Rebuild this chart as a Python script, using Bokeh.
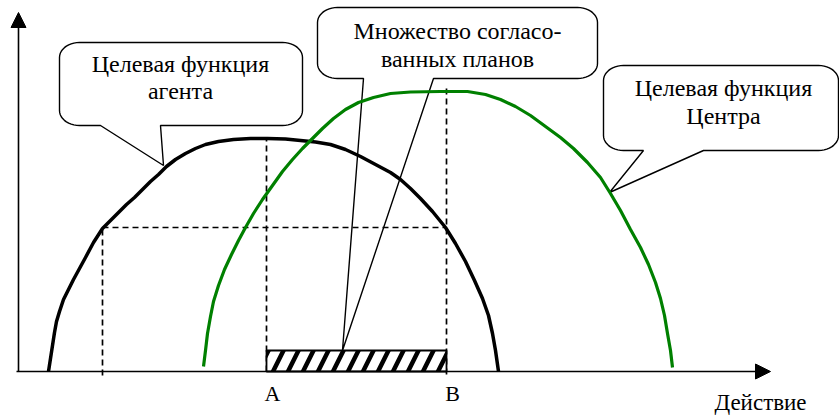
import numpy as np
from bokeh.plotting import figure
from bokeh.models import Range1d, Arrow, NormalHead
from bokeh.core.properties import value
from bokeh.embed import file_html
from bokeh.resources import INLINE

# ---- data (origin = intersection of the two axes) ----
agent_x = [30, 32, 34, 36, 38, 41, 45, 50, 55, 61, 67, 75, 84, 92, 100, 108, 116, 124,
           132, 140, 148, 157, 167, 177, 187, 200, 215, 232, 249, 267, 282, 297, 312,
           327, 342, 357, 372, 382, 392, 402, 414, 427, 437, 447, 456, 464, 470, 474,
           477, 480]
agent_y = [0, 13, 26, 39, 50, 60, 72, 82, 92, 103, 114, 129, 143, 151, 159, 167, 174, 182,
           190, 197, 205, 212, 218, 223, 227, 230, 232, 233, 233, 232.5, 231, 229.5, 227,
           222, 215, 207, 199, 192, 183, 173, 160, 144, 128, 110, 91, 73, 56, 38,
           21, 0]

center_x = [185, 187, 189, 192, 195, 200, 206, 213, 220, 227, 235, 244, 254, 264, 274,
            284, 294, 304, 315, 327, 340, 355, 372, 392, 422, 449, 467, 482, 497, 512,
            527, 542, 555, 569, 582, 592, 602, 612, 622, 630, 637, 642, 646, 649, 652, 654]
center_y = [5, 21, 38, 55, 70, 86, 102, 117, 131, 144, 158, 172, 186, 200, 212,
            223, 233, 243, 253, 262, 269, 274, 278, 279.5, 280, 280, 277, 272, 265, 256,
            245, 234, 223, 209, 194, 178, 161, 142, 124, 107, 89, 73, 56, 38, 21, 4]

tick_labels = ["A", "B"]
plan_x = [248, 428]          # A, B
plan_height = 21
level_y = 144                # equal agent value level
level_x = [84, 427]
top_A = 233                  # agent max
top_B = 286                  # center max

axis_label = "Действие"

FONT = "Liberation Serif"

p = figure(width=839, height=415, x_range=Range1d(-18, 821), y_range=Range1d(-44, 371),
           output_backend="svg", toolbar_location=None, x_axis_type=None, y_axis_type=None,
           min_border=0)
p.grid.visible = False
p.outline_line_color = None
p.background_fill_color = "white"
p.border_fill_color = "white"


def callout(x0, x1, y0, y1, tb0, tb1, tip, rx=20, ry=15, n=12):
    xs, ys = [tb1, x1 - rx], [y0, y0]
    def arc(cx, cy, a0, a1):
        t = np.linspace(np.radians(a0), np.radians(a1), n)
        xs.extend(cx + rx * np.cos(t))
        ys.extend(cy + ry * np.sin(t))
    arc(x1 - rx, y0 + ry, -90, 0)
    arc(x1 - rx, y1 - ry, 0, 90)
    arc(x0 + rx, y1 - ry, 90, 180)
    arc(x0 + rx, y0 + ry, 180, 270)
    xs += [tb0, tip[0], tb1]
    ys += [y0, tip[1], y0]
    return xs, ys


callouts = [
    dict(box=(41, 284, 246, 329), tail=(82, 142), tip=(145, 206),
         lines=["Целевая функция", "агента"], cx=162, ly=[308, 281]),
    dict(box=(299, 579, 293, 364), tail=(345, 415), tip=(324, 21),
         lines=["Множество согласо-", "ванных планов"], cx=439, ly=[341, 313]),
    dict(box=(585, 820, 221, 306), tail=(625, 685), tip=(591, 179),
         lines=["Целевая функция", "Центра"], cx=705, ly=[284, 256]),
]

for c in callouts:
    x0, x1, y0, y1 = c["box"]
    xs, ys = callout(x0, x1, y0, y1, c["tail"][0], c["tail"][1], c["tip"])
    p.patch(xs, ys, fill_color="white", line_color="black", line_width=1.4)

# dashed guide lines
dash = dict(line_color="black", line_width=1.7, line_dash="6 4")
p.line([plan_x[0], plan_x[0]], [0, top_A], **dash)
p.line([plan_x[1], plan_x[1]], [-3, top_B], **dash)
p.line(level_x, [level_y, level_y], **dash)
p.line([level_x[0], level_x[0]], [-4, level_y], **dash)

# set of agreed plans
p.quad(left=plan_x[0], right=plan_x[1], bottom=0, top=plan_height, fill_color="white",
       line_color="black", line_width=1.8, hatch_pattern="/", hatch_color="black",
       hatch_scale=30, hatch_weight=4.5)

# curves
p.line(agent_x, agent_y, line_color="black", line_width=3.5, line_join="round")
p.line(center_x, center_y, line_color="#008000", line_width=3.2, line_join="round")

# axes
p.add_layout(Arrow(x_start=0, y_start=0, x_end=0, y_end=359, line_width=1.6,
                   end=NormalHead(size=15, fill_color="black", line_color="black")))
p.add_layout(Arrow(x_start=-2, y_start=0, x_end=752, y_end=0, line_width=1.6,
                   end=NormalHead(size=15, fill_color="black", line_color="black")))

# texts
txt = dict(text_font=value(FONT), text_align="center",
           text_baseline="middle", text_color="black")
for c in callouts:
    p.text(x=[c["cx"]] * len(c["lines"]), y=c["ly"], text=c["lines"],
           text_font_size="24px", **txt)
p.text(x=[plan_x[0] + 6, plan_x[1] + 6], y=[-22, -22], text=tick_labels,
       text_font_size="22px", **txt)
p.text(x=[742], y=[-31], text=[axis_label], text_font_size="23px", **txt)

open("out.html", "w").write(file_html(p, INLINE))
